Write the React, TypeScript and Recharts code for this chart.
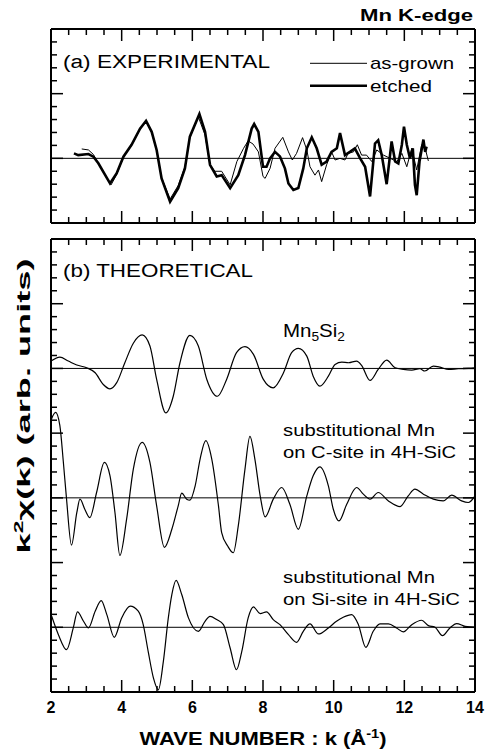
import React from "react";
import { LineChart, Line, XAxis, YAxis, ReferenceLine, Legend } from "recharts";

/**
 * Mn K-edge EXAFS: k^2-weighted chi(k), experimental (a) vs theoretical (b).
 * Two stacked LineCharts share the same k scale; frame ticks point inward on all sides.
 */

const FONT = "'Liberation Sans', Arial, Helvetica, sans-serif";

// k axis (Å^-1)
const K_TICKS = [2, 2.5, 3, 3.5, 4, 4.5, 5, 5.5, 6, 6.5, 7, 7.5, 8, 8.5, 9, 9.5, 10, 10.5, 11, 11.5, 12, 12.5, 13, 13.5, 14];
const K_LABELS = [2, 4, 6, 8, 10, 12, 14];

// (a) experimental, [k, k^2 chi]
const AS_GROWN: [number, number][] = [
  [2.87, 0.145], [3.06, 0.13], [3.2, 0.06], [3.34, -0.08], [3.7, -0.41], [3.86, -0.25],
  [4.05, 0.02], [4.28, 0.2], [4.52, 0.45], [4.69, 0.57], [4.85, 0.4], [4.99, 0.12],
  [5.13, -0.3], [5.37, -0.63], [5.6, -0.42], [5.79, -0.13], [5.93, 0.32], [6.17, 0.64],
  [6.36, 0.36], [6.5, -0.1], [6.64, -0.2], [6.83, -0.2], [7.07, -0.41], [7.26, -0.05],
  [7.45, 0.155], [7.58, 0.27], [7.72, 0.22], [7.87, 0.1], [8.0, -0.28], [8.06, -0.31],
  [8.2, -0.155], [8.34, 0.155], [8.56, 0.325], [8.72, 0.1], [8.83, -0.026], [8.95, 0.077],
  [9.12, 0.32], [9.24, 0.13], [9.33, -0.13], [9.47, -0.26], [9.57, -0.18], [9.66, -0.36],
  [9.8, -0.1], [9.94, 0.1], [10.04, -0.026], [10.18, 0], [10.32, -0.026], [10.41, 0.077],
  [10.56, 0.1], [10.67, 0.21], [10.79, 0.05], [10.93, 0.05], [11.08, -0.05], [11.22, 0.13],
  [11.41, 0.05], [11.6, 0], [11.79, -0.05], [11.93, 0.077], [12.07, -0.13], [12.21, 0.155],
  [12.35, -0.18], [12.49, 0.21], [12.59, 0.155], [12.68, -0.04],
];

const ETCHED: [number, number][] = [
  [2.65, 0.077], [2.77, 0.05], [3.06, 0.067], [3.2, 0.026], [3.34, -0.077], [3.67, -0.387],
  [3.86, -0.23], [4.05, 0.026], [4.28, 0.21], [4.52, 0.46], [4.69, 0.58], [4.85, 0.41],
  [4.99, 0.13], [5.13, -0.31], [5.37, -0.67], [5.6, -0.46], [5.79, -0.155], [5.93, 0.335],
  [6.2, 0.685], [6.36, 0.41], [6.5, -0.1], [6.69, -0.28], [6.83, -0.26], [7.07, -0.46],
  [7.3, -0.26], [7.49, 0.05], [7.68, 0.46], [7.75, 0.53], [7.87, 0.41], [8.0, -0.13],
  [8.1, -0.13], [8.2, 0], [8.34, 0.1], [8.48, 0.03], [8.62, -0.155], [8.72, -0.39],
  [8.86, -0.49], [9.0, -0.46], [9.14, -0.155], [9.24, 0.155], [9.38, 0.325], [9.52, 0.155],
  [9.66, -0.1], [9.8, -0.05], [9.94, 0.1], [10.09, 0.155], [10.18, 0.39], [10.32, 0.05],
  [10.46, 0.1], [10.6, 0.155], [10.75, 0], [10.89, -0.13], [11.03, -0.59], [11.17, 0.23],
  [11.26, 0.28], [11.36, 0.05], [11.5, -0.4], [11.64, 0.26], [11.74, -0.05], [11.83, -0.08],
  [11.93, 0.21], [11.99, 0.49], [12.07, 0.21], [12.16, 0], [12.24, 0.155], [12.3, -0.41],
  [12.35, -0.57], [12.43, -0.05], [12.54, 0.29], [12.59, 0.1], [12.63, 0.18],
];

// (b) theoretical, [k, k^2 chi] relative to each curve's own baseline
const MN5SI2: [number, number][] = [
  [2.0, 0.114], [2.25, 0.176], [2.49, 0.114], [2.73, 0.052], [3.01, 0.01], [3.25, -0.067],
  [3.48, -0.248], [3.67, -0.315], [3.86, -0.22], [4.09, 0.088], [4.33, 0.39], [4.58, 0.517],
  [4.8, 0.346], [4.99, -0.17], [5.25, -0.687], [5.46, -0.43], [5.65, 0.088], [5.93, 0.51],
  [6.17, 0.346], [6.41, -0.17], [6.71, -0.43], [6.97, -0.17], [7.25, 0.243], [7.49, 0.336],
  [7.73, 0.217], [8.01, -0.17], [8.29, -0.3], [8.58, -0.067], [8.81, 0.243], [9.0, 0.31],
  [9.24, 0.19], [9.42, -0.12], [9.61, -0.274], [9.85, -0.12], [10.04, 0.062], [10.23, 0.098],
  [10.42, 0.088], [10.65, 0.114], [10.79, 0.047], [11.03, -0.186], [11.26, -0.016], [11.5, 0.129],
  [11.74, 0.01], [11.97, -0.016], [12.21, -0.026], [12.44, -0.005], [12.58, -0.04], [12.82, 0.036],
  [13.01, 0.02], [13.25, -0.016], [13.53, -0.005], [13.81, 0], [14.0, 0.01],
];

const C_SITE: [number, number][] = [
  [2.0, 1.2], [2.13, 1.32], [2.25, 1.12], [2.35, 0.55], [2.44, -0.02], [2.58, -0.73],
  [2.73, -0.23], [2.82, -0.02], [2.96, -0.18], [3.1, -0.305], [3.29, 0.083], [3.51, 0.548],
  [3.67, 0.34], [3.81, -0.227], [3.95, -0.89], [4.14, -0.33], [4.33, 0.444], [4.58, 0.858],
  [4.8, 0.548], [4.99, -0.124], [5.21, -0.765], [5.42, -0.486], [5.6, -0.124], [5.7, 0.072],
  [5.84, -0.02], [5.93, -0.036], [6.08, 0.186], [6.22, 0.6], [6.38, 0.884], [6.55, 0.6],
  [6.74, -0.124], [6.83, -0.537], [7.0, -0.744], [7.16, -0.848], [7.3, -0.434], [7.49, 0.444],
  [7.63, 0.951], [7.77, 0.6], [7.92, 0.031], [8.06, -0.295], [8.29, -0.02], [8.53, 0.16],
  [8.76, -0.098], [9.0, -0.486], [9.24, 0.031], [9.42, 0.341], [9.61, 0.48], [9.85, 0.186],
  [9.99, -0.176], [10.15, -0.357], [10.37, -0.098], [10.65, 0.16], [10.84, 0.057], [11.03, -0.02],
  [11.26, 0.083], [11.55, -0.047], [11.88, -0.134], [12.11, 0.031], [12.3, 0.134], [12.54, 0.057],
  [12.82, -0.02], [13.1, -0.047], [13.34, 0.041], [13.62, -0.047], [13.81, -0.072], [14.0, 0.031],
];

const SI_SITE: [number, number][] = [
  [2.02, 0.17], [2.21, -0.114], [2.44, -0.346], [2.63, -0.01], [2.75, 0.238], [2.92, 0.093],
  [3.06, -0.01], [3.25, 0.248], [3.42, 0.413], [3.58, 0.196], [3.79, -0.155], [4.0, 0.145],
  [4.24, 0.326], [4.47, 0.248], [4.61, 0.041], [4.75, -0.372], [4.9, -0.786], [5.04, -0.966],
  [5.18, -0.527], [5.32, 0.145], [5.42, 0.506], [5.54, 0.724], [5.7, 0.506], [5.89, 0.145],
  [6.17, -0.062], [6.36, 0.093], [6.5, 0.17], [6.69, 0.119], [6.88, 0.041], [7.07, -0.32],
  [7.25, -0.656], [7.4, -0.372], [7.58, 0.145], [7.73, 0.315], [7.92, 0.212], [8.1, 0.238],
  [8.29, 0.119], [8.48, 0.041], [8.72, -0.114], [8.95, -0.233], [9.14, -0.062], [9.33, 0.052],
  [9.57, -0.103], [9.85, -0.01], [10.08, 0.093], [10.27, 0.155], [10.51, 0.196], [10.7, 0.041],
  [10.91, -0.31], [11.12, -0.062], [11.31, 0.052], [11.55, 0.052], [11.78, -0.01], [11.97, -0.072],
  [12.21, 0.041], [12.49, 0.109], [12.68, 0.026], [12.87, 0], [13.08, -0.13], [13.29, -0.01],
  [13.48, 0.057], [13.72, 0.015], [14.0, 0],
];

// vertical offsets used to stack the theoretical curves
const OFFSET_MN5SI2 = 4;
const OFFSET_C_SITE = 2;
const OFFSET_SI_SITE = 0;

const EXP_DOMAIN: [number, number] = [-1, 2];
const THEO_DOMAIN: [number, number] = [-1, 6];

const LEGEND_ITEMS = [
  { name: "as-grown", width: 1, len: 84 },
  { name: "etched", width: 2.6, len: 62 },
];

const W = 486;
const H = 755;
// axes are 1px thick (a 0px axis is not drawn), margins take the rest
const MARGIN_X = { left: 50, right: 10 };

const minorTicks = (lo: number, hi: number) =>
  Array.from({ length: Math.round((hi - lo) * 5) + 1 }, (_, i) => +(lo + i / 5).toFixed(2));

const isInt = (v: number) => Math.abs(v - Math.round(v)) < 1e-6;
const isKMajor = (v: number) => K_LABELS.includes(v);

const toRows = (pts: [number, number][], off = 0) => pts.map(([k, v]) => ({ k, v: v + off }));

type Side = "bottom" | "top" | "left" | "right";

// tickSize/tickMargin are 0, so (x, y) is exactly on the frame edge
function edgeTick(side: Side, major: (v: number) => boolean, labels = false) {
  return (props: any) => {
    const { x, y, payload } = props;
    const v = payload.value as number;
    const len = major(v) ? 12 : 6;
    let x2 = x;
    let y2 = y;
    if (side === "bottom") y2 = y - len;
    if (side === "top") y2 = y + len;
    if (side === "left") x2 = x + len;
    if (side === "right") x2 = x - len;
    return (
      <g>
        <line x1={x} y1={y} x2={x2} y2={y2} stroke="#000" strokeWidth={1.5} />
        {labels && major(v) && (
          <text x={x} y={y + 21} textAnchor="middle" fontSize={16} fontWeight="bold" fontFamily={FONT} fill="#000">
            {v}
          </text>
        )}
      </g>
    );
  };
}

const FRAME = { stroke: "#000", strokeWidth: 2 };

function frameAxes(yTicks: number[], yDomain: [number, number], kLabels: boolean) {
  return [
    <XAxis key="xb" dataKey="k" type="number" domain={[2, 14]} ticks={K_TICKS} interval={0} height={1}
      tickSize={0} tickMargin={0} tickLine={false} axisLine={FRAME} allowDataOverflow
      tick={edgeTick("bottom", isKMajor, kLabels)} />,
    <XAxis key="xt" xAxisId="top" orientation="top" dataKey="k" type="number" domain={[2, 14]} ticks={K_TICKS}
      interval={0} height={1} tickSize={0} tickMargin={0} tickLine={false} axisLine={FRAME} allowDataOverflow
      tick={edgeTick("top", isKMajor)} />,
    <YAxis key="yl" type="number" domain={yDomain} ticks={yTicks} interval={0} width={1} tickSize={0}
      tickMargin={0} tickLine={false} axisLine={FRAME} allowDataOverflow tick={edgeTick("left", isInt)} />,
    <YAxis key="yr" yAxisId="right" orientation="right" type="number" domain={yDomain} ticks={yTicks}
      interval={0} width={1} tickSize={0} tickMargin={0} tickLine={false} axisLine={FRAME} allowDataOverflow
      tick={edgeTick("right", isInt)} />,
  ];
}

function ExpLegend() {
  return (
    <svg width={170} height={45} style={{ display: "block" }}>
      {LEGEND_ITEMS.map((it, i) => (
        <g key={it.name}>
          <line x1={0} x2={57} y1={8.3 + i * 22.4} y2={8.3 + i * 22.4} stroke="#000" strokeWidth={it.width} />
          <text x={60} y={13.5 + i * 23.5} fontSize={17} fontFamily={FONT} textLength={it.len}
            lengthAdjust="spacingAndGlyphs">
            {it.name}
          </text>
        </g>
      ))}
    </svg>
  );
}

const txt = { fontFamily: FONT, fill: "#000" } as const;

export default function App() {
  const expTicks = minorTicks(EXP_DOMAIN[0], EXP_DOMAIN[1]);
  const theoTicks = minorTicks(THEO_DOMAIN[0], THEO_DOMAIN[1]);

  return (
    <div style={{ position: "absolute", left: 0, top: 0, width: W, height: H, background: "#fff" }}>
      {/* (a) experimental */}
      <div style={{ position: "absolute", left: 0, top: 0 }}>
        <LineChart width={W} height={240} margin={{ top: 28, bottom: 16, ...MARGIN_X }}>
          {frameAxes(expTicks, EXP_DOMAIN, false)}
          <ReferenceLine y={0} stroke="#000" strokeWidth={1} />
          <Legend layout="vertical" verticalAlign="middle" align="center" content={<ExpLegend />}
            wrapperStyle={{ left: 310, top: 55, width: 170, height: 45 }} />
          <Line data={toRows(AS_GROWN)} dataKey="v" name="as-grown" type="linear" stroke="#000"
            strokeWidth={1} dot={false} isAnimationActive={false} />
          <Line data={toRows(ETCHED)} dataKey="v" name="etched" type="linear" stroke="#000"
            strokeWidth={2.6} dot={false} isAnimationActive={false} />
        </LineChart>
      </div>

      {/* (b) theoretical */}
      <div style={{ position: "absolute", left: 0, top: 0 }}>
        <LineChart width={W} height={H} margin={{ top: 238, bottom: 62, ...MARGIN_X }}>
          {frameAxes(theoTicks, THEO_DOMAIN, true)}
          <ReferenceLine y={OFFSET_MN5SI2} stroke="#000" strokeWidth={1} />
          <ReferenceLine y={OFFSET_C_SITE} stroke="#000" strokeWidth={1} />
          <ReferenceLine y={OFFSET_SI_SITE} stroke="#000" strokeWidth={1} />
          <Line data={toRows(MN5SI2, OFFSET_MN5SI2)} dataKey="v" type="monotone" stroke="#000"
            strokeWidth={1.2} dot={false} isAnimationActive={false} />
          <Line data={toRows(C_SITE, OFFSET_C_SITE)} dataKey="v" type="monotone" stroke="#000"
            strokeWidth={1.2} dot={false} isAnimationActive={false} />
          <Line data={toRows(SI_SITE, OFFSET_SI_SITE)} dataKey="v" type="monotone" stroke="#000"
            strokeWidth={1.2} dot={false} isAnimationActive={false} />
        </LineChart>
      </div>

      {/* annotations */}
      <svg width={W} height={H} style={{ position: "absolute", left: 0, top: 0, pointerEvents: "none" }}>
        <text x={473} y={21} textAnchor="end" fontSize={17} fontWeight="bold" textLength={113}
          lengthAdjust="spacingAndGlyphs" {...txt}>Mn K-edge</text>
        <text x={63} y={68} fontSize={18} textLength={207} lengthAdjust="spacingAndGlyphs" {...txt}>
          (a) EXPERIMENTAL
        </text>
        <text x={63} y={277} fontSize={18} textLength={190} lengthAdjust="spacingAndGlyphs" {...txt}>
          (b) THEORETICAL
        </text>
        <text x={283} y={337} fontSize={18} textLength={62} lengthAdjust="spacingAndGlyphs" {...txt}>
          Mn<tspan fontSize={12} dy={4}>5</tspan>
          <tspan dy={-4}>Si</tspan>
          <tspan fontSize={12} dy={4}>2</tspan>
        </text>
        <text x={283} y={436} fontSize={17} textLength={152} lengthAdjust="spacingAndGlyphs" {...txt}>
          substitutional Mn
        </text>
        <text x={283} y={458} fontSize={17} textLength={173} lengthAdjust="spacingAndGlyphs" {...txt}>
          on C-site in 4H-SiC
        </text>
        <text x={283} y={583} fontSize={17} textLength={152} lengthAdjust="spacingAndGlyphs" {...txt}>
          substitutional Mn
        </text>
        <text x={283} y={605} fontSize={17} textLength={177} lengthAdjust="spacingAndGlyphs" {...txt}>
          on Si-site in 4H-SiC
        </text>
        <text x={263} y={745} textAnchor="middle" fontSize={18} fontWeight="bold" textLength={247}
          lengthAdjust="spacingAndGlyphs" {...txt}>
          WAVE NUMBER : k (Å<tspan fontSize={12} dy={-7}>-1</tspan>
          <tspan dy={7}>)</tspan>
        </text>
        <text transform="translate(30,406) rotate(-90)" textAnchor="middle" fontSize={19} fontWeight="bold"
          textLength={295} lengthAdjust="spacingAndGlyphs" {...txt}>
          k<tspan fontSize={12} dy={-7}>2</tspan>
          <tspan dy={7}>χ(k) (arb. units)</tspan>
        </text>
      </svg>
    </div>
  );
}
